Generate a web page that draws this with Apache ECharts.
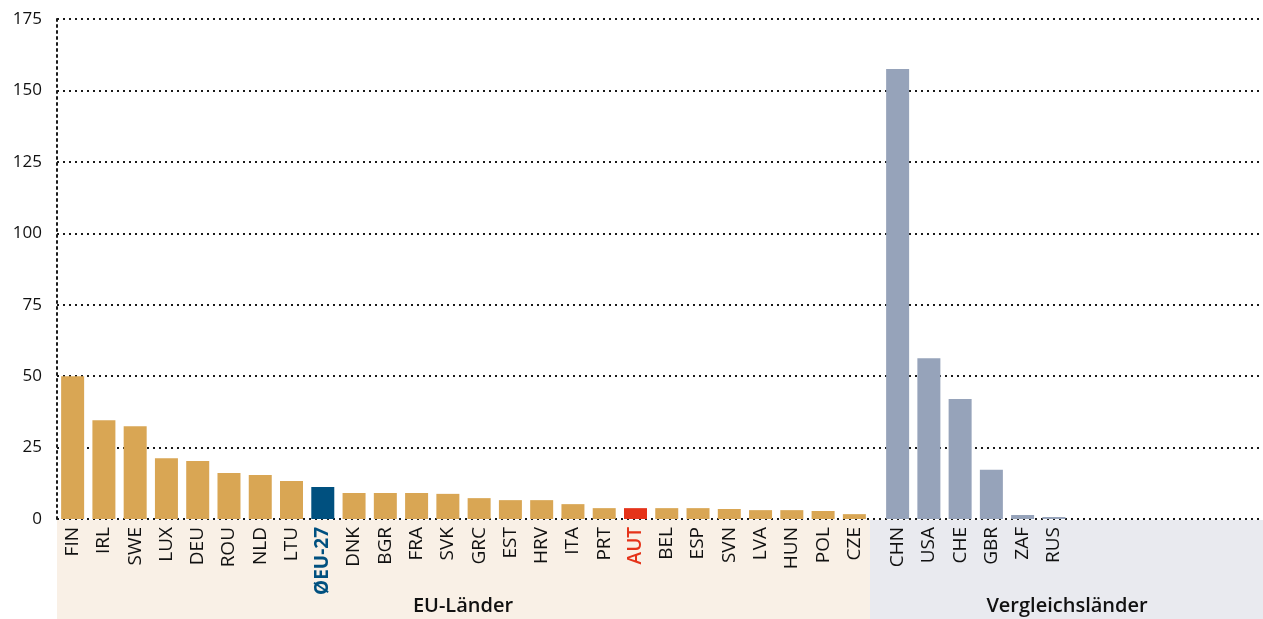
<!DOCTYPE html>
<html>
<head>
<meta charset="utf-8">
<script src="https://cdn.jsdelivr.net/npm/echarts@6/dist/echarts.min.js"></script>
<style>
html, body { margin: 0; padding: 0; background: #fff; }
#chart { width: 1263px; height: 619px; }
</style>
</head>
<body>
<div id="chart"></div>
<script>
var euLaender = ['FIN', 'IRL', 'SWE', 'LUX', 'DEU', 'ROU', 'NLD', 'LTU', 'ØEU-27', 'DNK', 'BGR', 'FRA', 'SVK',
	'GRC', 'EST', 'HRV', 'ITA', 'PRT', 'AUT', 'BEL', 'ESP', 'SVN', 'LVA', 'HUN', 'POL', 'CZE'];
var euWerte = [50, 34.6, 32.5, 21.3, 20.3, 16.1, 15.4, 13.3, 11.2, 9.1, 9.1, 9.1, 8.8,
	7.3, 6.6, 6.6, 5.2, 3.8, 3.8, 3.8, 3.8, 3.5, 3.1, 3.1, 2.8, 1.7];
var vglLaender = ['CHN', 'USA', 'CHE', 'GBR', 'ZAF', 'RUS'];
var vglWerte = [157.5, 56.3, 42, 17.2, 1.4, 0.7];
var yTicks = [0, 25, 50, 75, 100, 125, 150, 175];

var gold = '#d9a654';
var blau = '#00507f';
var rot = '#e5331a';
var grau = '#96a3ba';

function euFarbe(name) {
	if (name === 'ØEU-27') return blau;
	if (name === 'AUT') return rot;
	return gold;
}

var myChart = echarts.init(document.getElementById('chart'));
var dotted = { color: '#1a1a1a', width: 2, type: [2, 4] };
var labelFont = '"Open Sans", Lato, sans-serif';

var option = {
	animation: false,
	graphic: [
		{ type: 'rect', shape: { x: 57, y: 520, width: 813, height: 99 }, style: { fill: '#f9f0e6' }, z: -10 },
		{ type: 'rect', shape: { x: 870, y: 520, width: 393, height: 99 }, style: { fill: '#e9eaef' }, z: -10 },
		{ type: 'text', x: 463, y: 606, style: { text: 'EU-Länder', font: '600 20px ' + labelFont, fill: '#111', align: 'center', verticalAlign: 'middle' } },
		{ type: 'text', x: 1067, y: 606, style: { text: 'Vergleichsländer', font: '600 20px ' + labelFont, fill: '#111', align: 'center', verticalAlign: 'middle' } }
	],
	grid: [
		{ left: 57, right: 1, top: 19, bottom: 100 },
		{ left: 57, width: 813, top: 19, bottom: 100 },
		{ left: 882, width: 187.5, top: 19, bottom: 100 }
	],
	xAxis: [
		{ gridIndex: 0, type: 'value', show: false, min: 0, max: 1 },
		{
			gridIndex: 1, type: 'category', data: euLaender,
			axisLine: { show: false }, axisTick: { show: false },
			axisLabel: {
				rotate: 90, margin: 8, fontSize: 19, fontFamily: labelFont, color: '#111',
				formatter: function (v) {
					if (v === 'ØEU-27') return '{eu|' + v + '}';
					if (v === 'AUT') return '{at|' + v + '}';
					return v;
				},
				rich: {
					eu: { color: blau, fontWeight: 'bold', fontSize: 19, fontFamily: labelFont },
					at: { color: rot, fontWeight: 600, fontSize: 19, fontFamily: labelFont }
				}
			}
		},
		{
			gridIndex: 2, type: 'category', data: vglLaender,
			axisLine: { show: false }, axisTick: { show: false },
			axisLabel: { rotate: 90, margin: 8, fontSize: 19, fontFamily: labelFont, color: '#111' }
		}
	],
	yAxis: [
		{
			gridIndex: 0, type: 'value', min: 0, max: 175, interval: 25,
			axisLine: { show: true, lineStyle: dotted },
			axisTick: { show: false },
			axisLabel: {
				margin: 15, fontSize: 17, fontFamily: labelFont, color: '#111',
				customValues: yTicks
			},
			splitLine: { show: true, lineStyle: dotted }
		},
		{ gridIndex: 1, type: 'value', min: 0, max: 175, show: false },
		{ gridIndex: 2, type: 'value', min: 0, max: 175, show: false }
	],
	series: [
		{
			type: 'bar', xAxisIndex: 1, yAxisIndex: 1, barWidth: 23, z: 5,
			data: euWerte.map(function (v, i) {
				return { value: v, itemStyle: { color: euFarbe(euLaender[i]) } };
			})
		},
		{
			type: 'bar', xAxisIndex: 2, yAxisIndex: 2, barWidth: 23, z: 5,
			itemStyle: { color: grau },
			data: vglWerte
		}
	]
};
myChart.setOption(option);
</script>
</body>
</html>
